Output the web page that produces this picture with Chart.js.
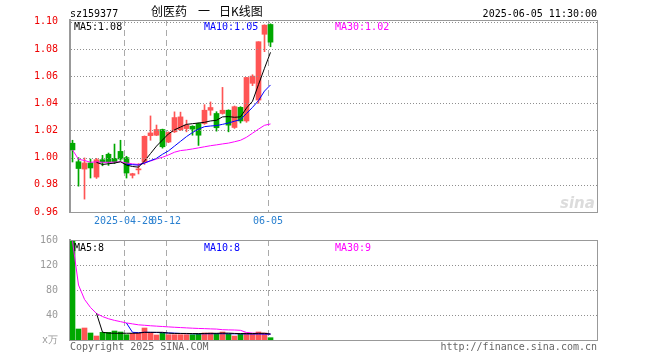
<!DOCTYPE html>
<html><head><meta charset="utf-8">
<script src="https://cdn.jsdelivr.net/npm/chart.js@4.4.1/dist/chart.umd.min.js"></script>
<style>
html,body{margin:0;padding:0;background:#fff;}
#wrap{position:relative;width:660px;height:360px;background:#fff;}
canvas{position:absolute;left:0;top:0;}
</style></head><body>
<div id="wrap"><canvas id="kc" width="660" height="360"></canvas><canvas id="vc" width="660" height="360"></canvas></div>
<script>
// ---- data ----
const symbol = 'sz159377';
const titleParts = ['创医药', '一', '日K线图'];
const stamp = '2025-06-05 11:30:00';
const tickIndex = [9, 16, 33];
const tickLabels = ['2025-04-28', '05-12', '06-05'];
const priceTicks = [0.96, 0.98, 1.00, 1.02, 1.04, 1.06, 1.08, 1.10];
const volTicks = [0, 40, 80, 120, 160];
const volUnit = 'x万';
const volLegend = ['MA5:8', 'MA10:8', 'MA30:9'];
const copyright = 'Copyright 2025 SINA.COM';
const siteUrl = 'http://finance.sina.com.cn';

const open  = [1.0106,0.9970,0.9916,0.9961,0.9857,0.9985,1.0025,0.9995,1.0046,1.0000,0.9870,0.9910,0.9968,1.0162,1.0165,1.0207,1.0115,1.0190,1.0205,1.0214,1.0231,1.0251,1.0251,1.0349,1.0325,1.0325,1.0349,1.0222,1.0370,1.0270,1.0547,1.0424,1.0908,1.0980];
const high  = [1.0128,1.0000,0.9998,0.9990,0.9995,1.0017,1.0034,1.0100,1.0128,1.0010,0.9885,0.9956,1.0160,1.0307,1.0240,1.0210,1.0190,1.0337,1.0335,1.0276,1.0235,1.0255,1.0390,1.0410,1.0338,1.0517,1.0352,1.0380,1.0375,1.0590,1.0610,1.0853,1.0978,1.0985];
const low   = [0.9968,0.9790,0.9695,0.9850,0.9847,0.9940,0.9943,0.9956,0.9980,0.9850,0.9850,0.9880,0.9950,1.0128,1.0162,1.0070,1.0110,1.0185,1.0200,1.0190,1.0165,1.0090,1.0245,1.0312,1.0195,1.0320,1.0190,1.0215,1.0255,1.0260,1.0530,1.0400,1.0780,1.0816];
const close = [1.0057,0.9920,0.9961,0.9924,0.9985,0.9968,0.9968,0.9970,0.9990,0.9887,0.9882,0.9915,1.0157,1.0182,1.0207,1.0080,1.0185,1.0295,1.0300,1.0240,1.0210,1.0165,1.0349,1.0369,1.0220,1.0349,1.0239,1.0375,1.0270,1.0590,1.0600,1.0853,1.0975,1.0850];
const volume = [158,17.6,19.2,11.2,6.4,12.3,12.3,14.4,12.8,8.5,10.7,10.7,19.2,12.3,8.0,11.2,8.5,8.5,8.5,8.5,8.5,9.6,11.2,11.2,10.7,12.8,9.6,6.4,9.1,11.2,10.7,12.8,11.2,3.7];

const ma5  = [null,null,null,null,0.9965,0.9950,0.9955,0.9960,0.9970,0.9945,0.9935,0.9930,0.9975,1.0030,1.0085,1.0130,1.0175,1.0205,1.0225,1.0245,1.0250,1.0255,1.0260,1.0270,1.0275,1.0300,1.0302,1.0297,1.0300,1.0365,1.0415,1.0538,1.0658,1.0775];
const ma10 = [null,null,null,null,null,null,null,null,null,0.9950,0.9948,0.9945,0.9960,0.9978,0.9995,1.0025,1.0050,1.0085,1.0120,1.0155,1.0185,1.0210,1.0228,1.0233,1.0236,1.0245,1.0255,1.0268,1.0280,1.0325,1.0370,1.0420,1.0490,1.0535];
const ma30 = [1.0057,0.9988,0.9979,0.9966,0.9969,0.9966,0.9966,0.9967,0.9969,0.9961,0.9954,0.9950,0.9962,0.9975,0.9990,1.0003,1.0020,1.0040,1.0052,1.0057,1.0064,1.0072,1.0080,1.0088,1.0094,1.0101,1.0107,1.0117,1.0128,1.0150,1.0180,1.0210,1.0238,1.0248];

const volMa5  = [null,null,null,null,42.5,12.5,11.0,10.8,10.8,10.8,10.8,11.0,12.3,12.3,12.3,12.3,11.0,10.5,10.5,10.5,10.3,10.3,10.5,10.7,10.7,11.0,11.0,10.5,10.3,10.3,10.3,10.7,10.7,9.5];
const volMa10 = [null,null,null,null,null,null,null,null,null,27.0,12.3,11.8,12.3,12.2,12.0,11.7,11.3,11.0,10.5,10.2,10.0,9.8,10.0,10.0,10.1,10.1,10.0,9.9,9.8,9.7,9.6,9.6,9.5,9.4];
const volMa30 = [158,88,65,52,42.5,37.5,34,31.4,29.4,27.3,25.8,24.3,23.6,22.8,22.2,21.6,21.0,20.4,19.9,19.4,18.9,18.5,18.2,17.8,17.5,16.5,16.2,16.0,15.5,12.0,11.0,10.5,10.0,9.6];

// ---- styling ----
const UP = '#ff5555', DOWN = '#00a800';
const MONO = '"DejaVu Sans Mono", monospace';
const X_MIN = -0.4167, X_MAX = X_MIN + 527 / 6;
const Y_MIN = 0.96, Y_MAX = 1.1013;

const idx = close.map((_, i) => i);
const isUp = i => close[i] >= open[i];
const barColors = idx.map(i => isUp(i) ? UP : DOWN);
const pts = arr => arr.map((v, i) => v == null ? null : {x: i, y: v}).filter(p => p);

Chart.defaults.font.family = MONO;
Chart.defaults.font.size = 10;

function lineDs(arr, color) {
  return {type: 'line', data: pts(arr), borderColor: color, borderWidth: 1, pointRadius: 0, tension: 0, fill: false, order: 0};
}

function xAxis(height, showLabels) {
  return {
    type: 'linear', min: X_MIN, max: X_MAX, offset: false,
    afterBuildTicks: s => { s.ticks = tickIndex.map(k => ({value: k + X_MIN})); },
    afterFit: s => { s.height = height; },
    ticks: {display: showLabels, autoSkip: false, maxRotation: 0, padding: 3, color: '#2a80d0',
      font: {family: MONO, size: 10}, callback: (v, i) => tickLabels[i]},
    grid: {color: '#aaaaaa', lineWidth: 1, drawTicks: false, offset: false},
    border: {display: true, color: '#999', width: 1, dash: [6, 4]}
  };
}

// dotted horizontal grid at tick values, placed by a chart's own y scale, drawn on ctx
function drawDots(ctx, chart, tickVals) {
  const a = chart.chartArea, ys = chart.scales.y;
  ctx.save();
  ctx.fillStyle = '#8f8f8f';
  for (let k = 1; k < tickVals.length; k++) {
    const py = Math.round(ys.getPixelForValue(Number(tickVals[k])));
    if (!isFinite(py)) continue;
    for (let px = Math.round(a.left) + 1; px <= Math.round(a.right) + 1; px += 3) ctx.fillRect(px, py, 1, 1);
  }
  ctx.restore();
}
function drawFrame(ctx, chart) {
  const a = chart.chartArea;
  ctx.save();
  ctx.fillStyle = '#999';
  ctx.fillRect(Math.round(a.left), Math.round(a.top), Math.round(a.right - a.left) + 1, 1);
  ctx.fillRect(Math.round(a.right), Math.round(a.top), 1, Math.round(a.bottom - a.top));
  ctx.restore();
}

let kChart = null;

const kPlugin = {
  id: 'kdecor',
  beforeDatasetsDraw(chart) {
    const ctx = chart.ctx;
    ctx.save();
    ctx.fillStyle = '#dcdcdc';
    ctx.font = 'italic bold 15px "DejaVu Sans", sans-serif';
    ctx.textAlign = 'left'; ctx.textBaseline = 'alphabetic';
    ctx.fillText('sina', 560, 208);
    ctx.restore();
    drawDots(ctx, chart, priceTicks);
    drawFrame(ctx, chart);
  },
  afterDraw(chart) {
    const ctx = chart.ctx;
    ctx.save();
    ctx.textBaseline = 'alphabetic';
    ctx.font = '10px ' + MONO;
    ctx.fillStyle = '#000'; ctx.textAlign = 'left';
    ctx.fillText(symbol, 70, 17);
    ctx.textAlign = 'right';
    ctx.fillText(stamp, 597, 17);
    ctx.textAlign = 'left';
    ctx.font = '12px "Noto Sans CJK SC", sans-serif';
    ctx.fillText(titleParts[0], 151, 16);
    ctx.fillText(titleParts[1], 198, 16);
    ctx.fillText(titleParts[2], 219, 16);
    ctx.font = '10px ' + MONO;
    ctx.fillStyle = '#000'; ctx.fillText('MA5:' + ma5[ma5.length - 1].toFixed(2), 74, 30);
    ctx.fillStyle = '#0000ff'; ctx.fillText('MA10:' + ma10[ma10.length - 1].toFixed(2), 204, 30);
    ctx.fillStyle = '#ff00ff'; ctx.fillText('MA30:' + ma30[ma30.length - 1].toFixed(2), 335, 30);
    ctx.restore();
  }
};

const vPlugin = {
  id: 'vdecor',
  beforeDatasetsDraw(chart) {
    drawDots(chart.ctx, chart, volTicks);
    drawFrame(chart.ctx, chart);
    // price-panel dotted grid also laid on the top canvas, using the price chart's y scale
    if (kChart) drawDots(chart.ctx, kChart, priceTicks);
  },
  afterDraw(chart) {
    const ctx = chart.ctx;
    ctx.save();
    ctx.textBaseline = 'alphabetic';
    ctx.font = '10px ' + MONO;
    ctx.textAlign = 'left';
    ctx.fillStyle = '#000'; ctx.fillText(volLegend[0], 74, 251);
    ctx.fillStyle = '#0000ff'; ctx.fillText(volLegend[1], 204, 251);
    ctx.fillStyle = '#ff00ff'; ctx.fillText(volLegend[2], 335, 251);
    ctx.fillStyle = '#666';
    ctx.fillText(copyright, 70, 350);
    ctx.textAlign = 'right';
    ctx.fillText(siteUrl, 597, 350);
    ctx.restore();
  }
};

kChart = new Chart(document.getElementById('kc'), {
  type: 'bar',
  data: {
    datasets: [
      lineDs(ma5, '#000000'),
      lineDs(ma10, '#0000ff'),
      lineDs(ma30, '#ff00ff'),
      {type: 'bar', data: idx.map(i => ({x: i, y: [open[i], close[i]]})), backgroundColor: barColors,
       barThickness: 5, minBarLength: 1, grouped: false, borderWidth: 0, order: 1},
      {type: 'bar', data: idx.map(i => ({x: i, y: [low[i], high[i]]})), backgroundColor: barColors,
       barThickness: 1, grouped: false, borderWidth: 0, order: 2}
    ]
  },
  options: {
    responsive: false, animation: false, events: [], devicePixelRatio: 1,
    layout: {padding: {top: 20, right: 63, bottom: 0, left: 0}},
    plugins: {legend: {display: false}, tooltip: {enabled: false}},
    scales: {
      x: xAxis(148, true),
      y: {
        type: 'linear', min: Y_MIN, max: Y_MAX,
        afterBuildTicks: s => { s.ticks = priceTicks.map(v => ({value: v})); },
        afterFit: s => { s.width = 70; },
        ticks: {color: '#ee0000', padding: 4, font: {family: MONO, size: 10}, callback: v => v.toFixed(2)},
        grid: {display: false},
        border: {display: true, color: '#999', width: 2}
      }
    }
  },
  plugins: [kPlugin]
});

new Chart(document.getElementById('vc'), {
  type: 'bar',
  data: {
    datasets: [
      lineDs(volMa5, '#000000'),
      lineDs(volMa10, '#0000ff'),
      lineDs(volMa30, '#ff00ff'),
      {type: 'bar', data: idx.map(i => ({x: i, y: volume[i]})), backgroundColor: barColors,
       barThickness: 5, grouped: false, borderWidth: 0, order: 1}
    ]
  },
  options: {
    responsive: false, animation: false, events: [], devicePixelRatio: 1,
    layout: {padding: {top: 240, right: 63, bottom: 0, left: 0}},
    plugins: {legend: {display: false}, tooltip: {enabled: false}},
    scales: {
      x: xAxis(20, false),
      y: {
        type: 'linear', min: volTicks[0], max: volTicks[volTicks.length - 1],
        afterBuildTicks: s => { s.ticks = volTicks.map(v => ({value: v})); },
        afterFit: s => { s.width = 70; },
        ticks: {color: '#999', padding: 4, font: {family: MONO, size: 10}, callback: v => v === 0 ? volUnit : String(v)},
        grid: {display: false},
        border: {display: true, color: '#999', width: 2}
      }
    }
  },
  plugins: [vPlugin]
});
</script>
</body></html>
